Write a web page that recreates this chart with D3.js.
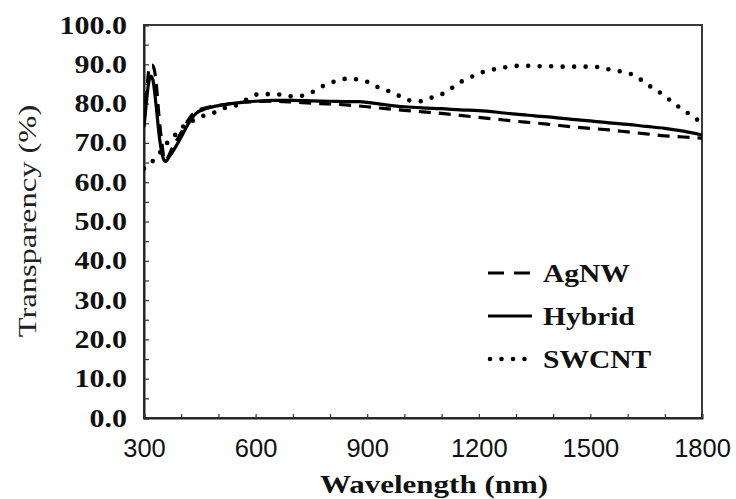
<!DOCTYPE html>
<html><head><meta charset="utf-8">
<script src="https://cdn.jsdelivr.net/npm/d3@7"></script>
<style>body{margin:0;background:#fff}svg{display:block}</style>
</head><body>
<script>
// ---- data ----
const agnwWavelength = [300,308,315,322,328,334,340,348,356,364,375,390,405,420,440,470,500,550,600,650,700,750,800,850,900,950,1000,1050,1100,1150,1200,1250,1300,1350,1400,1450,1500,1550,1600,1650,1700,1750,1800];
const agnwValues     = [75,84,89.5,89.8,88.5,84,77,70,65.5,66.3,68.5,71,73.5,76,78,79,79.5,80.2,80.5,80.6,80.4,80.1,79.9,79.6,79.2,78.7,78.3,77.9,77.5,77.0,76.5,76.0,75.5,75.1,74.6,74.1,73.7,73.3,72.8,72.3,71.8,71.5,71.2];
const hybridWavelength = [300,305,312,318,324,332,342,352,358,368,385,400,420,440,470,500,550,600,650,700,750,800,850,880,900,950,1000,1050,1100,1150,1200,1250,1300,1350,1400,1450,1500,1550,1600,1650,1700,1750,1800];
const hybridValues     = [74,79,85,87,86,80,71,66,65.3,66.5,69,71.5,75,77.5,78.8,79.5,80.2,80.6,80.8,80.8,80.7,80.6,80.5,80.5,80.3,79.7,79.2,78.9,78.7,78.4,78.2,77.8,77.3,76.9,76.5,76.0,75.6,75.1,74.7,74.2,73.7,73.0,72.0];
const swcntWavelength = [300,330,365,390,410,440,465,495,520,555,580,610,645,675,700,735,760,790,820,850,880,905,930,960,990,1015,1045,1075,1105,1130,1155,1185,1210,1245,1275,1305,1340,1370,1400,1430,1460,1490,1520,1550,1585,1615,1640,1665,1690,1715,1740,1765,1790,1800];
const swcntValues     = [63.5,66,70.3,72.6,74.6,76,77.1,77.9,79,79.8,81.3,82.4,82.4,82.2,81.8,82.2,83.3,84.9,85.8,86.4,86.0,85.4,84.1,83.1,81.8,80.8,80.6,81.6,82.6,84.1,85.7,87.0,88.0,88.8,89.3,89.6,89.6,89.5,89.5,89.4,89.4,89.4,89.3,88.7,88.1,87.3,85.8,84.1,82.6,80.8,79.0,77.4,75.7,75.0];
const seriesNames = ["AgNW","Hybrid","SWCNT"];
const xTickLabels = [300,600,900,1200,1500,1800];
const yTickLabels = [0,10,20,30,40,50,60,70,80,90,100];

// ---- layout ----
const W = 736, H = 499;
const L = 144, R = 702, T = 25, B = 418;
const serif = "'Liberation Serif','Times New Roman',serif";
const sans = "'Liberation Sans',Arial,sans-serif";
const svg = d3.select("body").append("svg").attr("width", W).attr("height", H);

const x = d3.scaleLinear().domain([300,1800]).range([L,R]);
const y = d3.scaleLinear().domain([0,100]).range([B,T]);

// frame
svg.append("rect").attr("x",L).attr("y",T).attr("width",R-L).attr("height",B-T)
  .attr("fill","none").attr("stroke","#3a3a3a").attr("stroke-width",2);

// y axis: inner minor ticks every 5
const yAxis = svg.append("g").attr("transform",`translate(${L},0)`)
  .call(d3.axisLeft(y).tickValues(d3.range(0,101,5)).tickSize(-5).tickPadding(17)
    .tickFormat(d => yTickLabels.includes(d) ? d.toFixed(1) : ""));
yAxis.select(".domain").attr("stroke","#222").attr("stroke-width",2);
yAxis.selectAll(".tick line").attr("stroke","#333").attr("stroke-width",1.2);
yAxis.selectAll(".tick text").attr("font-family",serif).attr("font-weight","bold")
  .attr("font-size",25).attr("fill","#111")
  .attr("x", -17/1.2).attr("transform","scale(1.2,1)");

// x axis: inner ticks every 100
const xAxis = svg.append("g").attr("transform",`translate(0,${B})`)
  .call(d3.axisBottom(x).tickValues(d3.range(300,1801,100)).tickSize(-4).tickPadding(21)
    .tickFormat(d => xTickLabels.includes(d) ? String(d) : ""));
xAxis.select(".domain").attr("stroke","#222").attr("stroke-width",2);
xAxis.selectAll(".tick line").attr("stroke","#333").attr("stroke-width",1.2);
xAxis.selectAll(".tick text").attr("font-family",sans).attr("font-size",25.5).attr("fill","#111");

// lines
svg.append("clipPath").attr("id","c").append("rect")
  .attr("x",L).attr("y",T).attr("width",R-L).attr("height",B-T);
const line = d3.line().x(d=>x(d[0])).y(d=>y(d[1])).curve(d3.curveMonotoneX);
const zip = (a,b) => a.map((v,i)=>[v,b[i]]);
const styles = {
  AgNW:   {dash:"12,8", cap:"butt", w:3.2},
  Hybrid: {dash:null, cap:"butt", w:3.2},
  SWCNT:  {dash:"0,11.5", cap:"round", w:4.6}
};
const seriesData = {
  AgNW: zip(agnwWavelength, agnwValues),
  Hybrid: zip(hybridWavelength, hybridValues),
  SWCNT: zip(swcntWavelength, swcntValues)
};
const plot = svg.append("g").attr("clip-path","url(#c)");
["SWCNT","AgNW","Hybrid"].forEach(n => {
  const s = styles[n];
  plot.append("path").datum(seriesData[n]).attr("d",line)
    .attr("fill","none").attr("stroke","#000").attr("stroke-width",s.w)
    .attr("stroke-linecap",s.cap).attr("stroke-linejoin","round")
    .attr("stroke-dasharray",s.dash);
});

// legend
const legY = [273, 316, 359];
seriesNames.forEach((n,i) => {
  const s = styles[n];
  const g = svg.append("g").attr("transform",`translate(0,${legY[i]})`);
  g.append("line").attr("x1", n==="SWCNT"?490:488).attr("x2",532).attr("y1",0).attr("y2",0)
    .attr("stroke","#000").attr("stroke-width",s.w).attr("stroke-linecap",s.cap)
    .attr("stroke-dasharray", n==="AgNW" ? "16,10" : s.dash);
  g.append("text").attr("transform","translate(543,9) scale(1.18,1)")
    .attr("font-family",serif).attr("font-weight","bold").attr("font-size",25)
    .attr("fill","#111").text(n);
});

// axis titles
svg.append("text").attr("transform","translate(434,493) scale(1.24,1)")
  .attr("text-anchor","middle").attr("font-family",serif).attr("font-weight","bold")
  .attr("font-size",25).attr("fill","#111").text("Wavelength (nm)");
svg.append("text").attr("transform","translate(36,221) rotate(-90) scale(1.25,1)")
  .attr("text-anchor","middle").attr("font-family",serif)
  .attr("font-size",26).attr("fill","#222").text("Transparency (%)");
</script>
</body></html>
